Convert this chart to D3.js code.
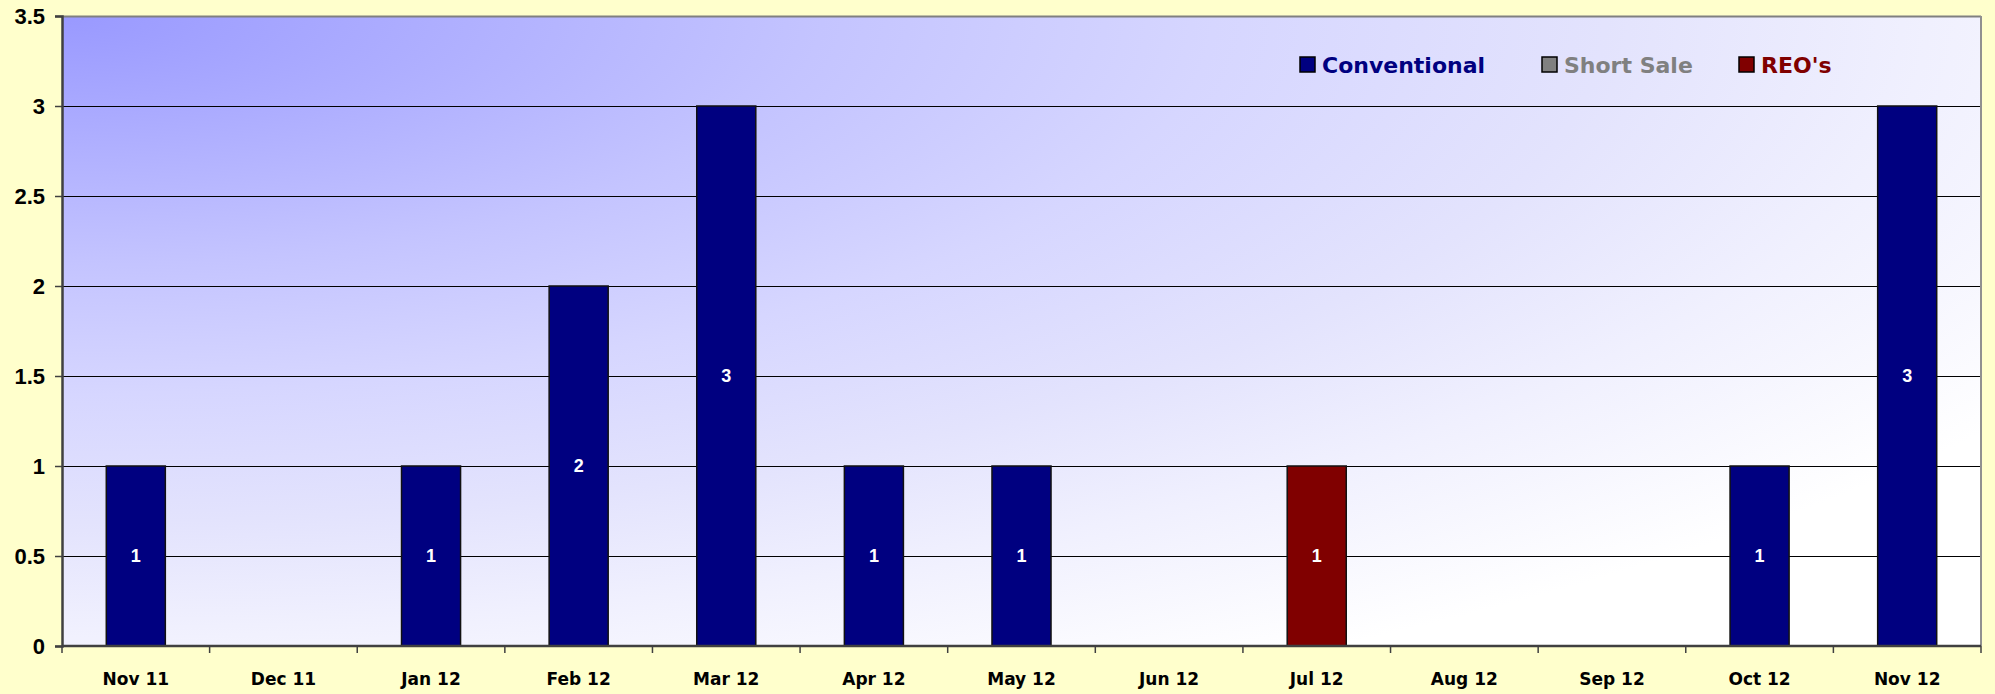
<!DOCTYPE html>
<html>
<head>
<meta charset="utf-8">
<script src="https://cdn.jsdelivr.net/npm/d3@7"></script>
<style>
  html, body { margin: 0; padding: 0; background: #ffffcc; }
  svg { display: block; }
</style>
</head>
<body>
<div id="chart"></div>
<script>
const months = ['Nov 11', 'Dec 11', 'Jan 12', 'Feb 12', 'Mar 12', 'Apr 12', 'May 12',
                'Jun 12', 'Jul 12', 'Aug 12', 'Sep 12', 'Oct 12', 'Nov 12'];
const conventional = [1, 0, 1, 2, 3, 1, 1, 0, 0, 0, 0, 1, 3];
const shortSale    = [0, 0, 0, 0, 0, 0, 0, 0, 0, 0, 0, 0, 0];
const reos         = [0, 0, 0, 0, 0, 0, 0, 0, 1, 0, 0, 0, 0];
const yTicks = [0, 0.5, 1, 1.5, 2, 2.5, 3, 3.5];
const seriesNames = ['Conventional', 'Short Sale', "REO's"];

const width = 1995;
const height = 694;
const margin = {top: 16, right: 14, bottom: 48, left: 62};

const colors = {'Conventional': '#000080', 'Short Sale': '#808080', "REO's": '#800000'};

const rows = months.map((m, i) => ({
    month: m,
    'Conventional': conventional[i],
    'Short Sale': shortSale[i],
    "REO's": reos[i]
}));

const svg = d3.select('#chart')
    .append('svg')
    .attr('width', width)
    .attr('height', height);

const x = d3.scaleBand()
    .domain(months)
    .range([margin.left, width - margin.right])
    .paddingInner(0.6)
    .paddingOuter(0.3);

const y = d3.scaleLinear()
    .domain([0, 3.5])
    .range([height - margin.bottom, margin.top]);

// plot area background, fading out from the top left corner
const defs = svg.append('defs');
const grad = defs.append('radialGradient')
    .attr('id', 'plotBg')
    .attr('cx', 0).attr('cy', 0).attr('r', 1.2)
    .attr('fx', 0).attr('fy', 0);
[[0, '#9999ff'], [0.33, '#c4c4ff'], [0.5, '#d6d6ff'], [0.67, '#e3e3fd'],
 [0.81, '#f0f0fe'], [1, '#ffffff']].forEach(s => {
    grad.append('stop').attr('offset', s[0]).attr('stop-color', s[1]);
});

const x0 = x.range()[0], x1 = x.range()[1];

svg.append('rect')
    .attr('x', x0)
    .attr('y', y(3.5))
    .attr('width', x1 - x0)
    .attr('height', y(0) - y(3.5))
    .attr('fill', 'url(#plotBg)');

// gridlines
svg.append('g')
    .selectAll('line')
    .data(yTicks.filter(t => t > 0))
    .join('line')
    .attr('x1', x0)
    .attr('x2', x1)
    .attr('y1', d => Math.round(y(d)) + 0.5)
    .attr('y2', d => Math.round(y(d)) + 0.5)
    .attr('stroke', d => d === 3.5 ? '#808080' : '#000')
    .attr('stroke-width', d => d === 3.5 ? 2 : 1);

// right border of plot
svg.append('line')
    .attr('x1', x1).attr('x2', x1)
    .attr('y1', y(3.5)).attr('y2', y(0))
    .attr('stroke', '#909090')
    .attr('stroke-width', 2);

// stacked bars
const stack = d3.stack().keys(seriesNames);
const layers = stack(rows);

const layer = svg.append('g')
    .selectAll('g')
    .data(layers)
    .join('g')
    .attr('fill', d => colors[d.key]);

layer.selectAll('rect')
    .data(d => d.filter(p => p[1] - p[0] > 0))
    .join('rect')
    .attr('x', d => x(d.data.month))
    .attr('y', d => y(d[1]))
    .attr('width', x.bandwidth())
    .attr('height', d => y(d[0]) - y(d[1]))
    .attr('stroke', '#111')
    .attr('stroke-width', 1.5);

// value labels inside bars
layer.selectAll('text')
    .data(d => d.filter(p => p[1] - p[0] > 0))
    .join('text')
    .attr('x', d => x(d.data.month) + x.bandwidth() / 2)
    .attr('y', d => (y(d[0]) + y(d[1])) / 2)
    .attr('dy', '0.35em')
    .attr('text-anchor', 'middle')
    .attr('fill', '#fff')
    .attr('font-family', 'Liberation Sans, Arial, sans-serif')
    .attr('font-weight', 'bold')
    .attr('font-size', 18)
    .text(d => d[1] - d[0]);

// y axis
const yAxis = d3.axisLeft(y)
    .tickValues(yTicks)
    .tickFormat(d => d)
    .tickSize(7)
    .tickPadding(10);

const gy = svg.append('g')
    .attr('transform', `translate(${x0},0)`)
    .call(yAxis);
gy.select('.domain').attr('stroke', '#404040').attr('stroke-width', 2.5);
gy.selectAll('.tick line').attr('stroke', '#404040').attr('stroke-width', 1.5);
gy.selectAll('.tick text')
    .attr('fill', '#000')
    .attr('font-family', 'Liberation Sans, Arial, sans-serif')
    .attr('font-weight', 'bold')
    .attr('font-size', 22);

// x axis: ticks sit between categories
const step = x.step();
const boundaries = d3.range(months.length + 1).map(i => x0 + i * step);

const gx = svg.append('g');
gx.append('line')
    .attr('x1', x0).attr('x2', x1)
    .attr('y1', y(0)).attr('y2', y(0))
    .attr('stroke', '#404040')
    .attr('stroke-width', 2.5);
gx.selectAll('.tk')
    .data(boundaries)
    .join('line')
    .attr('class', 'tk')
    .attr('x1', d => d).attr('x2', d => d)
    .attr('y1', y(0)).attr('y2', y(0) + 7)
    .attr('stroke', '#404040')
    .attr('stroke-width', 1.5);
gx.selectAll('text')
    .data(months)
    .join('text')
    .attr('x', d => x(d) + x.bandwidth() / 2)
    .attr('y', y(0) + 39)
    .attr('text-anchor', 'middle')
    .attr('fill', '#000')
    .attr('font-family', '"Century Gothic", "DejaVu Sans", sans-serif')
    .attr('font-weight', 'bold')
    .attr('font-size', 17)
    .text(d => d);

// legend
const legendX = [1300, 1542, 1739];
const legend = svg.append('g')
    .selectAll('g')
    .data(seriesNames)
    .join('g')
    .attr('transform', (d, i) => `translate(${legendX[i]},57)`);
legend.append('rect')
    .attr('width', 15)
    .attr('height', 15)
    .attr('fill', d => colors[d])
    .attr('stroke', '#000')
    .attr('stroke-width', 1.5);
legend.append('text')
    .attr('x', 22)
    .attr('y', 8)
    .attr('dy', '0.36em')
    .attr('fill', d => colors[d])
    .attr('font-family', '"Century Gothic", "DejaVu Sans", sans-serif')
    .attr('font-weight', 'bold')
    .attr('font-size', 22)
    .text(d => d);
</script>
</body>
</html>
